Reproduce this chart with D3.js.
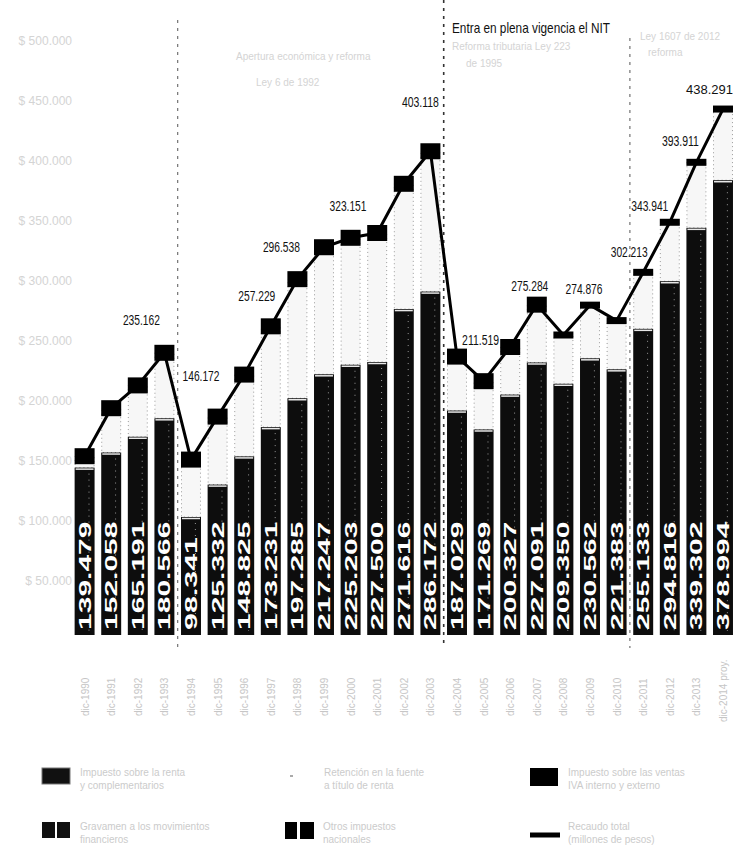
<!DOCTYPE html>
<html lang="es">
<head>
<meta charset="utf-8">
<title>Recaudo por año</title>
<script src="https://cdn.jsdelivr.net/npm/d3@7"></script>
<style>
  html, body { margin: 0; padding: 0; background: #fff; }
  svg { display: block; }
</style>
</head>
<body>
<svg id="chart" width="743" height="848"></svg>
<script>
// Periods shown on the horizontal axis
const periods = ["dic-1990","dic-1991","dic-1992","dic-1993","dic-1994","dic-1995","dic-1996",
  "dic-1997","dic-1998","dic-1999","dic-2000","dic-2001","dic-2002","dic-2003","dic-2004",
  "dic-2005","dic-2006","dic-2007","dic-2008","dic-2009","dic-2010","dic-2011","dic-2012",
  "dic-2013","dic-2014 proy."];

// Main component (dark lower segment), millions of pesos
const mainValues = [139479,152058,165191,180566,98341,125332,148825,173231,197285,217247,
  225203,227500,271616,286172,187029,171269,200327,227091,209350,230562,221383,255133,
  294816,339302,378994];

// Total per period (line)
const totalValues = [149000,189000,208000,235162,146172,182000,217000,257229,296538,323151,
  331000,335000,376000,403118,232000,211519,240000,275284,250000,274876,262000,302213,
  343941,393911,438291];

// Totals that carry a printed label
const labelledTotals = [235162,146172,257229,296538,323151,403118,211519,275284,274876,
  302213,343941,393911,438291];

// Axis ticks
const yTicks = [50000,100000,150000,200000,250000,300000,350000,400000,450000,500000];

// Period boundaries (index of the first period after each divider)
const dividers = [4, 14, 21];

// Legend entries
const legendNames = [
  ["Impuesto sobre la renta", "y complementarios"],
  ["Retención en la fuente", "a título de renta"],
  ["Impuesto sobre las ventas", "IVA interno y externo"],
  ["Gravamen a los movimientos", "financieros"],
  ["Otros impuestos", "nacionales"],
  ["Recaudo total", "(millones de pesos)"]
];

const svg = d3.select("#chart");
const fmt = d3.formatLocale({ decimal: ",", thousands: ".", grouping: [3], currency: ["$", ""] }).format(",d");

const x = d3.scaleBand().domain(periods).range([71.3, 736.3]).paddingInner(0.25).paddingOuter(0.125);
const y = d3.scaleLinear().domain([0, 500000]).range([635, 35]);
const bw = x.bandwidth();
const cx = p => x(p) + bw / 2;

// Y axis labels (faint)
const yAxis = d3.axisLeft(y).tickValues(yTicks).tickFormat(d => "$ " + fmt(d)).tickSize(0).tickPadding(0);
const gy = svg.append("g").attr("transform", "translate(72,6)").call(yAxis);
gy.select(".domain").remove();
gy.selectAll("text").attr("fill", "#d4d4d4").attr("font-size", 12).attr("font-family", "Liberation Sans Narrow, Liberation Sans, sans-serif");

// Dividers between periods
const dividerTops = [20, 0, 38];
dividers.forEach((idx, k) => {
  const xa = x(periods[idx - 1]) + bw, xb = x(periods[idx]);
  const xm = (xa + xb) / 2;
  svg.append("line")
    .attr("x1", xm).attr("x2", xm).attr("y1", dividerTops[k]).attr("y2", 648)
    .attr("stroke", k === 1 ? "#333" : "#666").attr("stroke-width", k === 1 ? 1.6 : 1.1)
    .attr("stroke-dasharray", "3,5");
});

// Upper (light) part of each stack: from the main component up to the total
const stacks = periods.map((p, i) => ({ p, main: mainValues[i], total: totalValues[i], i }));

svg.append("g").selectAll("rect").data(stacks).join("rect")
  .attr("x", d => x(d.p) + 0.5).attr("width", bw - 1)
  .attr("y", d => y(d.total)).attr("height", d => y(d.main) - y(d.total))
  .attr("fill", "#f7f7f7").attr("stroke", "#9a9a9a").attr("stroke-width", 1)
  .attr("stroke-dasharray", "1,3");

// Main dark component
svg.append("g").selectAll("rect").data(stacks).join("rect")
  .attr("x", d => x(d.p)).attr("width", bw)
  .attr("y", d => y(d.main)).attr("height", d => y(0) - y(d.main))
  .attr("fill", "#0d0d0d");

// Light edge at the top of each dark segment
svg.append("g").selectAll("line").data(stacks).join("line")
  .attr("x1", d => x(d.p) + 1).attr("x2", d => x(d.p) + bw - 1)
  .attr("y1", d => y(d.main) + 1.5).attr("y2", d => y(d.main) + 1.5)
  .attr("stroke", "#e8e8e8").attr("stroke-width", 1.5);

// Fine dotted texture inside the dark bars
svg.append("g").selectAll("line").data(stacks).join("line")
  .attr("x1", d => x(d.p) + bw * 0.72).attr("x2", d => x(d.p) + bw * 0.72)
  .attr("y1", d => y(d.main) + 6).attr("y2", y(0) - 4)
  .attr("stroke", "#bdbdbd").attr("stroke-width", 0.8).attr("stroke-dasharray", "1,5");

// Value of the main component, written inside the bar
svg.append("g").selectAll("text").data(stacks).join("text")
  .attr("transform", d => `translate(${cx(d.p) + 6},${y(0) - 5}) rotate(-90)`)
  .attr("font-family", "Liberation Sans, Arial, sans-serif").attr("font-weight", "bold")
  .attr("font-size", 17).attr("fill", "#fff")
  .attr("textLength", d => fmt(d.main).length * 15.5).attr("lengthAdjust", "spacingAndGlyphs")
  .text(d => fmt(d.main));

// Total line
const line = d3.line().x(d => cx(d.p)).y(d => y(d.total));
svg.append("path").datum(stacks).attr("d", line)
  .attr("fill", "none").attr("stroke", "#000").attr("stroke-width", 3).attr("stroke-linejoin", "round");

// Markers: square for the earlier periods, flat dash for the latest ones
svg.append("g").selectAll("rect").data(stacks).join("rect")
  .attr("x", d => cx(d.p) - 10).attr("width", 20)
  .attr("y", d => y(d.total) - (d.i >= 18 ? 3.5 : 8)).attr("height", d => d.i >= 18 ? 7 : 16)
  .attr("fill", "#000");

// Labels of the totals (offset from the marker; the last one is right-aligned to stay inside)
const labelOffsets = {
  235162: [-23, -28], 146172: [10, -79], 257229: [-14, -25], 296538: [-16, -27],
  323151: [24, -36], 403118: [-10, -44], 211519: [-3, -36], 275284: [-7, -14],
  274876: [-6, -11], 302213: [-14, -15], 343941: [-20, -11], 393911: [-16, -16],
  438291: [10, -15]
};
const isLast = d => d.i === periods.length - 1;
const labelled = stacks.filter(d => labelledTotals.includes(d.total));
const totalLabels = svg.append("g").selectAll("text").data(labelled).join("text")
  .attr("x", d => cx(d.p) + labelOffsets[d.total][0])
  .attr("y", d => y(d.total) + labelOffsets[d.total][1])
  .attr("text-anchor", d => isLast(d) ? "end" : "middle")
  .attr("font-family", "Liberation Sans Narrow, Liberation Sans, sans-serif")
  .attr("font-size", d => isLast(d) ? 13 : 15).attr("fill", "#111")
  .text(d => fmt(d.total));
totalLabels.filter(d => !isLast(d))
  .attr("textLength", 37).attr("lengthAdjust", "spacingAndGlyphs");

// Period labels (faint, vertical)
svg.append("g").selectAll("text").data(periods).join("text")
  .attr("transform", p => `translate(${cx(p) + 4},${p.length > 9 ? 722 : 716}) rotate(-90)`)
  .attr("font-family", "Liberation Sans, sans-serif").attr("font-size", 10)
  .attr("fill", "#c6c6c6")
  .text(p => p);

// Annotations
svg.append("text").attr("x", 452).attr("y", 33)
  .attr("font-family", "Liberation Sans Narrow, Liberation Sans, sans-serif")
  .attr("font-size", 15).attr("fill", "#111")
  .attr("textLength", 158).attr("lengthAdjust", "spacingAndGlyphs")
  .text("Entra en plena vigencia el NIT");

const faint = [
  [452, 50, "Reforma tributaria Ley 223"],
  [466, 67, "de 1995"],
  [236, 60, "Apertura económica y reforma"],
  [256, 86, "Ley 6 de 1992"],
  [640, 40, "Ley 1607 de 2012"],
  [648, 56, "reforma"]
];
svg.append("g").selectAll("text").data(faint).join("text")
  .attr("x", d => d[0]).attr("y", d => d[1]).text(d => d[2])
  .attr("font-family", "Liberation Sans, sans-serif").attr("font-size", 10)
  .attr("fill", "#d4d4d4");

// Legend
const legendPos = [[42, 768], [288, 768], [530, 768], [42, 822], [285, 822], [530, 822]];
const lg = svg.append("g");
legendNames.forEach((names, k) => {
  const [lx, ly] = legendPos[k];
  const g = lg.append("g").attr("transform", `translate(${lx},${ly})`);
  if (k === 0) {
    g.append("rect").attr("width", 28).attr("height", 16).attr("fill", "#111").attr("stroke", "#777");
  } else if (k === 1) {
    g.append("rect").attr("x", 2).attr("y", 7).attr("width", 3).attr("height", 2).attr("fill", "#aaa");
  } else if (k === 2) {
    g.append("rect").attr("width", 28).attr("height", 18).attr("fill", "#000");
  } else if (k === 3) {
    g.append("rect").attr("width", 28).attr("height", 16).attr("fill", "#111");
    g.append("line").attr("x1", 14).attr("x2", 14).attr("y1", 0).attr("y2", 16).attr("stroke", "#fff").attr("stroke-width", 2);
  } else if (k === 4) {
    g.append("rect").attr("width", 12).attr("height", 17).attr("fill", "#000");
    g.append("rect").attr("x", 15).attr("width", 14).attr("height", 17).attr("fill", "#000");
  } else {
    g.append("line").attr("x1", 0).attr("x2", 30).attr("y1", 13).attr("y2", 13).attr("stroke", "#000").attr("stroke-width", 5);
  }
  const tx = k === 1 ? 36 : 38;
  names.forEach((s, j) => {
    g.append("text").attr("x", tx).attr("y", 8 + j * 13).text(s)
      .attr("font-family", "Liberation Sans, sans-serif").attr("font-size", 10)
      .attr("fill", "#cbcbcb");
  });
});
</script>
</body>
</html>
